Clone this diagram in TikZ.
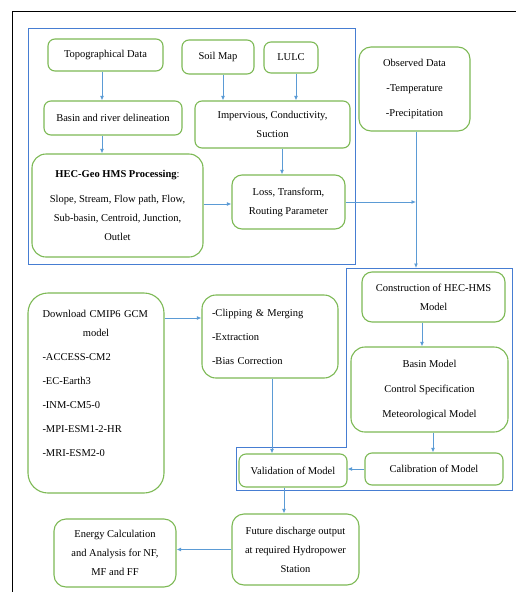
\documentclass[tikz,border=0pt]{standalone}
\usepackage{fontspec}
\setmainfont{Liberation Serif}
\usepackage{xcolor}
\usetikzlibrary{arrows.meta,calc}
\definecolor{boxgreen}{RGB}{125,185,85}
\definecolor{groupblue}{RGB}{70,125,210}
\definecolor{flowblue}{RGB}{91,155,213}

\tikzset{
    procbox/.style={draw=boxgreen, line width=1.1pt, rounded corners=7pt, fill=white,
        align=center, inner sep=2pt, font=\fontsize{10.5}{19}\selectfont},
    bigbox/.style={procbox, rounded corners=14pt},
    flow/.style={flowblue, line width=0.9pt, -{Latex[length=4.5pt,width=4pt]}},
    groupline/.style={groupblue, line width=1pt}
}

\begin{document}
\begin{tikzpicture}[x=1pt, y=-1pt]
    \useasboundingbox (0,0) rectangle (516,592);

    % Outer frame
    \draw[black, line width=0.9pt] (12,592) -- (12,11) -- (516,11);

    % Groups
    \draw[groupline] (28,28) rectangle (355,264);
    \draw[groupline] (346,268) -- (512,268) -- (512,490) -- (236,490) -- (236,447) -- (346,447) -- cycle;

    % Input data
    \node[procbox, minimum width=115pt, minimum height=32pt] (topo) at (105.5,55) {Topographical Data};
    \node[procbox, minimum width=72pt, minimum height=34pt] (soil) at (218,57) {Soil Map};
    \node[procbox, minimum width=54pt, minimum height=31pt] (lulc) at (291,57.5) {LULC};
    \node[procbox, rounded corners=12pt, minimum width=111pt, minimum height=84pt] (observed) at (414.5,89)
        {Observed Data\\[6pt] -Temperature\\[6pt] -Precipitation};

    % Pre-processing
    \node[procbox, minimum width=138pt, minimum height=34pt] (delin) at (113,118) {Basin and river delineation};
    \node[procbox, minimum width=155pt, minimum height=47pt] (imperv) at (272.5,124.5)
        {Impervious, Conductivity,\\ Suction};
    \node[bigbox, minimum width=171pt, minimum height=103pt] (geohms) at (117.5,205.5)
        {\textbf{HEC-Geo HMS Processing}:\\[6pt] Slope, Stream, Flow path, Flow,\\ Sub-basin, Centroid, Junction,\\ Outlet};
    \node[procbox, rounded corners=10pt, minimum width=113pt, minimum height=54pt] (loss) at (288.5,202)
        {Loss, Transform,\\ Routing Parameter};

    % HEC-HMS model
    \node[procbox, rounded corners=10pt, minimum width=143pt, minimum height=50pt] (construct) at (433.5,297)
        {Construction of HEC-HMS\\ Model};
    \node[bigbox, minimum width=157pt, minimum height=85pt] (basinmodel) at (429.5,389.5)
        {Basin Model\\[6pt] Control Specification\\[6pt] Meteorological Model};
    \node[procbox, minimum width=138pt, minimum height=32pt] (calib) at (434,469) {Calibration of Model};
    \node[procbox, minimum width=108pt, minimum height=33pt] (valid) at (293,470.5) {Validation of Model};

    % Climate models
    \node[bigbox, rounded corners=20pt, align=left, text width=107pt, minimum width=136pt, minimum height=200pt] (cmip) at (96,393)
        {Download CMIP6 GCM\\ \makebox[\linewidth]{model}\\[5pt] -ACCESS-CM2\\[5pt] -EC-Earth3\\[5pt] -INM-CM5-0\\[5pt]
         -MPI-ESM1-2-HR\\[5pt] -MRI-ESM2-0\\ \mbox{}};
    \node[bigbox, align=left, text width=116pt, minimum width=136pt, minimum height=83pt] (clip) at (270,336.5)
        {-Clipping \& Merging\\[5pt] -Extraction\\[5pt] -Bias Correction};

    % Outputs
    \node[procbox, rounded corners=12pt, minimum width=127pt, minimum height=71pt] (future) at (295.5,549.5)
        {Future discharge output\\ at required Hydropower\\ Station};
    \node[procbox, rounded corners=12pt, minimum width=122pt, minimum height=68pt] (energy) at (115,553)
        {Energy Calculation\\ and Analysis for NF,\\ MF and FF};

    % Connectors
    \coordinate (obsline) at ([xshift=1.5pt]observed.south |- loss.east);
    \coordinate (hmstop) at ([xshift=1.5pt]observed.south |- 0,268);
    \draw[flow] ([xshift=-3.5pt]topo.south) -- ([xshift=-3.5pt]topo.south |- delin.north);
    \draw[flow] ([xshift=5pt]soil.south) -- ([xshift=5pt]soil.south |- imperv.north);
    \draw[flow] ([xshift=5pt]lulc.south) -- ([xshift=5pt]lulc.south |- imperv.north);
    \draw[flow] ([xshift=-11pt]delin.south) -- ([xshift=-11pt]delin.south |- geohms.north);
    \draw[flow] ([xshift=9.5pt]imperv.south) -- ([xshift=9.5pt]imperv.south |- loss.north);
    \draw[flow] ([yshift=1.5pt]geohms.east) -- ([yshift=1.5pt]geohms.east -| loss.west);
    \draw[flow] (loss.east) -- (obsline);
    \draw[flow] ([xshift=1.5pt]observed.south) -- (hmstop);
    \draw[flow] ([xshift=-11.5pt]construct.south) -- ([xshift=-11.5pt]construct.south |- basinmodel.north);
    \draw[flow] ([xshift=3.5pt]basinmodel.south) -- ([xshift=3.5pt]basinmodel.south |- calib.north);
    \draw[flow] (calib.west) -- (calib.west -| valid.east);
    \draw[flow] ([yshift=75pt]cmip.east) -- ([yshift=75pt]cmip.east -| clip.west);
    \draw[flow] ([xshift=2pt]clip.south) -- ([xshift=2pt]clip.south |- valid.north);
    \draw[flow] ([xshift=-9pt]valid.south) -- ([xshift=-9pt]valid.south |- future.north);
    \draw[flow] (future.west) -- (future.west -| energy.east);
\end{tikzpicture}
\end{document}
